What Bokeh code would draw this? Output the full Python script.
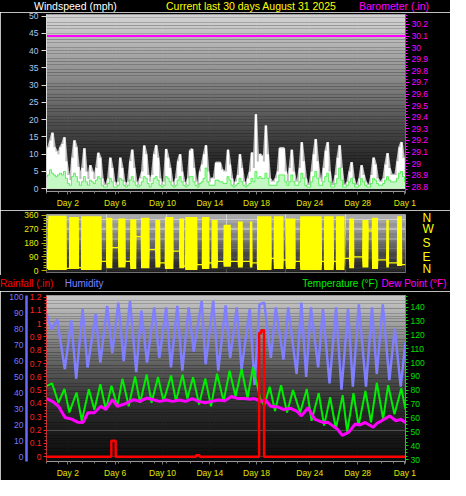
import numpy as np
from bokeh.plotting import figure
from bokeh.models import (Range1d, LinearAxis, FixedTicker, PrintfTickFormatter, Grid, Div)
from bokeh.layouts import column
from bokeh.embed import file_html
from bokeh.resources import INLINE

# ---------------- data ----------------
day_ticks = [1.78, 5.74, 9.7, 13.65, 17.55, 22.0, 26.0, 29.95]
day_labels = ["Day 2", "Day 6", "Day 10", "Day 14", "Day 18", "Day 24", "Day 28", "Day 1"]

# wind (mph), 6 samples per day (every 4 h), 30 days + final value
gust_by_day = [
    [11.5, 12, 14, 16.2, 12, 10.8], [10, 12, 13, 14.9, 8, 4], [2.5, 9, 14, 12, 6.4, 3],
    [6, 11.7, 5, 3, 6.8, 5], [3, 6, 10.4, 9, 3, 1], [1, 3, 9, 6, 2, 1],
    [2, 9, 6, 2, 1, 2], [8, 11.3, 6, 2, 1, 3], [5, 12.5, 10, 4, 2, 4],
    [10, 12.6, 9, 3, 1, 2], [11.5, 9, 6, 2, 1, 3], [8, 10, 5, 2, 1, 3],
    [11, 11.5, 6, 2, 1, 5], [7, 10, 12.6, 5, 2, 3], [3, 7.5, 7.5, 7.5, 5.5, 5],
    [5, 11.3, 7, 3, 1, 2], [4, 10, 6, 2, 1, 3], [5, 10.5, 6, 21.6, 8, 10],
    [9.5, 8, 18.3, 10, 3, 2], [2, 3, 5, 11.7, 11.7, 11.7], [5, 2, 6, 11.3, 5, 2],
    [2, 6, 13.5, 8, 3, 1], [1, 5, 10, 14.4, 8, 3], [2, 6, 11, 13.5, 5, 1],
    [1, 4, 9, 12.6, 6, 1], [1, 2, 5, 7.7, 3, 1], [1, 3, 6.8, 4, 2, 1],
    [1, 4, 9, 7, 3, 2], [2, 3, 7, 10.3, 6, 4], [4, 4, 8, 12, 13.5, 9],
]
gust_end = 4
avg_by_day = [
    [3.5, 4, 5.5, 4.5, 4, 3.5], [4, 4.5, 4, 5, 3, 1.5], [1, 3.5, 4.5, 3.5, 2, 1],
    [2, 3.5, 2, 1, 2.5, 2], [1.5, 2.5, 3.5, 3, 1, 0.5], [0.5, 1.5, 3, 2, 0.5, 0.5],
    [1, 3, 2.5, 1, 0.5, 1], [2.5, 3.5, 2, 1, 0.5, 1], [2, 3.5, 3, 1.5, 0.5, 1.5],
    [3, 3.5, 2.5, 1, 0.5, 1], [3.5, 3, 2, 1, 0.5, 1], [2.5, 3.5, 2, 1, 0.5, 1],
    [3.5, 3.5, 2, 1, 0.5, 1.5], [2, 3, 6, 2, 1, 1], [1, 2.5, 2.5, 2, 2, 1.5],
    [1.5, 3.5, 2.5, 1, 0.5, 1], [1.5, 3, 2, 1, 0.5, 1], [1.5, 3, 2, 5, 3, 3.5],
    [3, 3, 4.5, 3, 1, 1], [1, 1, 2, 4, 4, 4], [2, 1, 2, 4, 2, 1],
    [1, 2, 4.5, 3, 1, 0.5], [0.5, 2, 3.5, 5, 3, 1], [1, 2, 3.5, 4.5, 2, 0.5],
    [0.5, 1.5, 3, 6, 2.5, 0.5], [0.5, 1, 2, 3, 1.5, 0.5], [0.5, 1, 3, 2, 1, 0.5],
    [0.5, 1.5, 3, 2.5, 1.5, 1], [1, 1.5, 2.5, 3.5, 2.5, 2], [2, 2, 3, 4.5, 5, 3.5],
]
avg_end = 2
wind_ticks = [0, 5, 10, 15, 20, 25, 30, 35, 40, 45, 50]

baro_t = [0, 30]
baro_in = [30.1, 30.1]
baro_ticks = [28.8, 28.9, 29.0, 29.1, 29.2, 29.3, 29.4, 29.5, 29.6, 29.7, 29.8, 29.9, 30.0, 30.1, 30.2]

# wind direction: active (variable) periods and the steady direction after each one
dir_start = [0.16, 1.9, 2.9, 5.0, 6.0, 7.0, 7.9, 9.1, 9.9, 11.1, 11.6, 13.0, 13.8, 14.8,
             16.0, 17.0, 17.6, 19.0, 20.0, 21.2, 23.2, 24.2, 25.3, 26.4, 27.2, 28.4, 29.3]
dir_end = [1.68, 2.7, 4.6, 5.5, 6.6, 7.5, 8.6, 9.5, 10.6, 11.5, 12.6, 13.6, 14.3, 15.4,
           16.4, 17.2, 18.8, 19.8, 20.8, 23.0, 24.0, 24.9, 25.7, 26.9, 27.7, 28.6, 29.7]
dir_low = [5, 10, 5, 15, 20, 10, 15, 20, 10, 15, 5, 10, 15, 25,
           20, 20, 5, 10, 10, 5, 5, 5, 15, 20, 10, 20, 30]
dir_high = [358, 350, 355, 345, 340, 335, 345, 330, 350, 340, 350, 350, 330, 300,
            320, 320, 355, 355, 340, 355, 355, 355, 340, 330, 345, 330, 355]
dir_calm_start = 20
dir_calm_after = [15, 20, 60, 150, 60, 222, 137, 50, 127, 30, 40, 50, 60, 60,
                  60, 50, 80, 70, 60, 60, 60, 80, 90, 260, 70, 50, 40]
dir_ticks = [0, 90, 180, 270, 360]

temp_t = [0.0, 0.46, 1.0, 1.5, 1.91, 2.51, 2.95, 3.54, 4.0, 4.5, 4.96, 5.43, 5.92, 6.35, 6.87,
          7.4, 7.82, 8.37, 8.78, 9.32, 9.78, 10.41, 10.82, 11.37, 11.77, 12.25, 12.75, 13.27,
          13.75, 14.25, 14.8, 15.3, 15.8, 16.3, 16.8, 17.25, 17.9, 18.2, 18.65, 19.1, 19.6,
          20.1, 20.6, 21.2, 21.75, 22.15, 22.75, 23.2, 23.7, 24.18, 24.75, 25.13, 25.65,
          26.08, 26.65, 27.12, 27.6, 28.13, 28.55, 29.08, 29.65, 30.0]
temp_f = [83, 85, 71, 81, 64, 78.4, 58, 80.7, 66, 84.4, 66, 83.3, 68.5, 88.4, 68.5,
          90, 71, 91.4, 71, 89.6, 72, 90.7, 72, 91.2, 74, 89.5, 69.7, 88.5,
          68.5, 91.9, 72, 94.2, 75.5, 95.4, 74.4, 96.6, 73, 69, 82.5, 65, 83.7,
          64, 80.2, 63.8, 81, 58, 78, 54.5, 75, 52.2, 76.5, 49.8, 78,
          54.5, 79.5, 56.8, 85.4, 59.2, 83.7, 62.7, 81.4, 66.2]

dew_t = [0.0, 0.5, 1.0, 1.55, 2.1, 2.6, 3.05, 3.46, 4.0, 4.55, 4.96, 5.5, 5.92, 6.5, 7.28,
         7.8, 8.37, 9.0, 9.46, 10.0, 10.55, 11.1, 11.64, 12.18, 12.7, 13.27, 13.8, 14.36,
         14.9, 15.45, 16.0, 16.54, 17.0, 17.36, 17.9, 18.3, 18.73, 19.3, 19.8, 20.4, 20.9,
         21.3, 21.86, 22.4, 23.1, 23.5, 23.9, 24.3, 24.72, 25.26, 25.8, 26.2, 26.63, 27.3,
         27.6, 28.0, 28.67, 29.2, 29.6, 30.0]
dew_f = [74, 72, 68.5, 60.3, 59.2, 57, 56.8, 63.8, 63.8, 68.5, 66.2, 73.2, 68.5, 70, 73.2,
         72, 74.4, 73, 72, 73, 72, 73, 72, 74, 72, 71, 72, 73,
         72.5, 75.5, 74, 74, 73.5, 74, 72, 73, 68.5, 68, 66.2, 67, 65,
         61.5, 67.4, 59.2, 56.8, 57, 54.5, 52, 47.5, 49.8, 55.7, 55, 56.8, 53.3,
         56, 58, 61.5, 58, 59, 56.8]

hum_t = [0.0, 0.4, 0.9, 1.53, 2.07, 2.48, 3.02, 3.43, 4.11, 4.5, 5.07, 5.5, 6.0, 6.45, 6.98,
         7.5, 7.93, 8.4, 9.0, 9.43, 10.0, 10.4, 10.93, 11.35, 11.88, 12.3, 12.97, 13.3,
         13.93, 14.35, 14.97, 15.35, 15.9, 16.3, 16.98, 17.39, 17.8, 18.2, 18.75, 19.16,
         19.8, 20.2, 20.9, 21.3, 21.7, 22.1, 22.7, 23.1, 23.65, 24.2, 24.65, 25.2, 25.6,
         26.1, 26.7, 27.2, 27.6, 28.1, 28.65, 29.1, 29.6, 30.0]
hum_pct = [90, 80, 86, 55, 85.6, 49, 92.7, 56, 89.6, 59, 94.7, 65, 96.7, 60, 97.8,
           53, 91.7, 59, 93.7, 62, 93.7, 56, 94.7, 54, 93.7, 66, 97.8, 58,
           97.8, 54, 95, 62, 93.7, 55, 92.7, 45, 95.7, 96.7, 62, 93.7,
           61, 93.7, 52, 96.7, 50, 93.7, 56, 92.7, 46, 93.7, 42, 92.7, 44,
           95.7, 44, 93.7, 52, 95.7, 48, 80.5, 44, 72]

rain_t = [0, 5.42, 5.78, 12.5, 12.8, 17.77, 17.95, 18.18, 30]
rain_in = [0, 0.12, 0, 0.01, 0, 0.93, 0.95, 0, 0]

hum_ticks = [0, 10, 20, 30, 40, 50, 60, 70, 80, 90, 100]
rain_ticks = [0, 0.1, 0.2, 0.3, 0.4, 0.5, 0.6, 0.7, 0.8, 0.9, 1.0, 1.1, 1.2]
temp_ticks = [30, 40, 50, 60, 70, 80, 90, 100, 110, 120, 130, 140]

header_texts = ["Windspeed (mph)", "Current last 30 days August 31 2025", "Barometer (.in)"]
header_colors = ["#ffffff", "#ffff00", "#ff00ff"]
legend_texts = ["Rainfall (.in)", "Humidity", "Temperature (°F)", "Dew Point (°F)"]
legend_colors = ["#ff0000", "#8080ff", "#00ee00", "#ff00ff"]

# ---------------- helpers ----------------
FONT = "Liberation Sans"
TICK_FS = "8.5px"
BL, BR = 46, 45   # common frame borders (plots in a column are aligned)


def gradient(p, y0, y1, levels, n=64):
    stops = np.linspace(0, 1, len(levels))
    bottoms, tops, cols = [], [], []
    for k in range(n):
        g = int(round(np.interp((k + 0.5) / n, stops, levels)))
        bottoms.append(y0 + (y1 - y0) * k / n)
        tops.append(y0 + (y1 - y0) * (k + 1) / n)
        cols.append("#%02x%02x%02x" % (g, g, g))
    p.quad(left=-1, right=31, bottom=bottoms, top=tops, fill_color=cols, line_color=None)


def style_axis(ax, color, tick_color=None, line_color=None):
    ax.major_label_text_color = color
    ax.major_label_text_font = FONT
    ax.major_label_text_font_size = TICK_FS
    ax.major_tick_line_color = tick_color
    ax.minor_tick_line_color = tick_color
    ax.axis_line_color = line_color


def base_fig(h, bt, bb, yr, **kw):
    return figure(width=450, height=h, x_range=Range1d(0, 30), y_range=yr,
                  output_backend="svg", toolbar_location=None,
                  min_border_left=BL, min_border_right=BR, min_border_top=bt,
                  min_border_bottom=bb, background_fill_color="black",
                  border_fill_color="black", outline_line_color="#8a8a8a", **kw)


def text_row(h, xs, top, texts, colors, size):
    spans = "".join(
        f'<span style="position:absolute;left:{x}px;top:{top}px;color:{c};'
        f'white-space:nowrap;">{t}</span>'
        for x, t, c in zip(xs, texts, colors))
    html = (f'<div style="position:relative;width:450px;height:{h}px;background:#000;'
            f'overflow:hidden;font-family:\'{FONT}\';font-size:{size};line-height:12px;">'
            f'{spans}</div>')
    return Div(text=html, width=450, height=h, margin=0,
               styles={"background-color": "black"})


def day_axis(p):
    ax = p.xaxis[0]
    ax.ticker = FixedTicker(ticks=day_ticks, minor_ticks=list(range(0, 31)))
    ax.major_label_overrides = dict(zip(day_ticks, day_labels))
    style_axis(ax, "#e4e400", "#7a7a7a", "#9a9a9a")
    ax.major_tick_out = 3
    ax.major_tick_in = 0
    ax.minor_tick_out = 2
    ax.minor_tick_in = 0
    ax.major_label_standoff = 3


def grid_style(g):
    g.grid_line_color = "#c8c8c8"
    g.grid_line_alpha = 0.45
    g.grid_line_dash = "1 2"


# ---------------- header ----------------
head = text_row(12, [34, 166, 359], 0, header_texts, header_colors, "10.5px")

# ---------------- top: wind speed & barometer ----------------
p1 = base_fig(198, 2, 16, Range1d(-0.8, 50.5))
p1.extra_y_ranges = {"baro": Range1d(28.76, 30.286)}
gradient(p1, -0.8, 50.5, [20, 30, 42, 56, 74, 94, 116, 136, 156, 176, 198, 210])

wind_t = np.arange(0, 30 * 6 + 1) / 6.0
gust = [v for row in gust_by_day for v in row] + [gust_end]
avg = [v for row in avg_by_day for v in row] + [avg_end]

p1.xgrid.ticker = FixedTicker(ticks=day_ticks)
grid_style(p1.xgrid[0])
p1.ygrid.ticker = FixedTicker(ticks=wind_ticks)
grid_style(p1.ygrid[0])

p1.line(wind_t, gust, color="#bdbdbd", line_width=2.5)
p1.varea_step(x=wind_t, y1=0, y2=gust, step_mode="center", fill_color="white")
p1.varea_step(x=wind_t, y1=0, y2=avg, step_mode="center", fill_color="#c4f8c4")
p1.step(wind_t, avg, mode="center", color="#30ee30", line_width=1, line_alpha=0.75)
p1.line(baro_t, baro_in, y_range_name="baro", color="#ff00ff", line_width=2)

day_axis(p1)
ly = p1.yaxis[0]
ly.ticker = FixedTicker(ticks=wind_ticks)
style_axis(ly, "#a8c8f0", "#d8d8d8", "#d8d8d8")
ly.major_tick_out = 5
ly.major_tick_in = 0
ly.major_label_standoff = 3

ra = LinearAxis(y_range_name="baro",
                ticker=FixedTicker(ticks=baro_ticks,
                                   minor_ticks=list(np.arange(28.75, 30.3, 0.025))),
                formatter=PrintfTickFormatter(format="%g"))
style_axis(ra, "#ff00ff", "#ff00ff", "#ff00ff")
ra.major_tick_out = 4
ra.major_tick_in = 0
ra.minor_tick_out = 2
ra.minor_tick_in = 0
ra.major_label_standoff = 2
p1.add_layout(ra, "right")

# ---------------- middle: wind direction ----------------
p2 = base_fig(65, 4, 3, Range1d(-12, 366), x_axis_location=None)
gradient(p2, -12, 366, [40, 62, 95, 135, 172, 200, 214])
p2.ygrid.ticker = FixedTicker(ticks=dir_ticks)
grid_style(p2.ygrid[0])

d_t, d_lo, d_hi = [0.0], [dir_calm_start - 4], [dir_calm_start + 4]
for i in range(len(dir_start)):
    d_t += [dir_start[i], dir_end[i]]
    d_lo += [dir_low[i], dir_low[i]]
    d_hi += [dir_high[i], dir_high[i]]
    c = dir_calm_after[i]
    nxt = dir_start[i + 1] if i + 1 < len(dir_start) else 30.03
    d_t += [dir_end[i] + 0.03, nxt - 0.03]
    d_lo += [c - 4, c - 4]
    d_hi += [c + 4, c + 4]
p2.varea(x=d_t, y1=d_lo, y2=d_hi, color="#ffff00")

la = p2.yaxis[0]
la.ticker = FixedTicker(ticks=dir_ticks, minor_ticks=list(range(0, 361, 18)))
style_axis(la, "#e8e800", "#b4b400", None)
la.major_tick_out = 5
la.major_tick_in = 0
la.minor_tick_out = 3
la.minor_tick_in = 0
la.major_label_standoff = 3

compass = LinearAxis(ticker=FixedTicker(ticks=dir_ticks),
                     major_label_overrides={0: "N", 90: "E", 180: "S", 270: "W", 360: "N"})
style_axis(compass, "#ffff00", None, None)
compass.major_label_text_font_size = "12px"
compass.major_tick_out = 0
compass.major_label_standoff = 17
p2.add_layout(compass, "right")

# ---------------- legend row ----------------
legend = text_row(16, [0, 64.7, 302.3, 381.4], 3, legend_texts, legend_colors, "10px")

# ---------------- bottom: rain, humidity, temperature, dew point ----------------
p3 = base_fig(189, 4, 18, Range1d(-0.0365, 1.212), y_axis_location=None)
p3.extra_y_ranges = {"hum": Range1d(-3.05, 101.2), "temp": Range1d(28.6, 148.4)}
gradient(p3, -0.0365, 1.212, [12, 24, 40, 62, 92, 128, 168, 200])
p3.xgrid.ticker = FixedTicker(ticks=day_ticks)
grid_style(p3.xgrid[0])
tg = Grid(dimension=1, ticker=FixedTicker(ticks=temp_ticks), y_range_name="temp")
grid_style(tg)
p3.add_layout(tg)

p3.line(hum_t, hum_pct, y_range_name="hum", color="#7f7fff", line_width=2.5)
p3.line(temp_t, temp_f, y_range_name="temp", color="#00ee00", line_width=2)
p3.line(dew_t, dew_f, y_range_name="temp", color="#ff00ff", line_width=3)
p3.step(rain_t, rain_in, mode="after", color="#ff0000", line_width=2.5)

day_axis(p3)

rax = LinearAxis(ticker=FixedTicker(ticks=rain_ticks,
                                    minor_ticks=list(np.arange(0, 1.23, 0.025))),
                 formatter=PrintfTickFormatter(format="%g"))
style_axis(rax, "#ff2020", "#ff2020", "#ff2020")
rax.axis_line_dash = "1 1"
rax.major_tick_out = 3
rax.major_tick_in = 0
rax.minor_tick_out = 2
rax.minor_tick_in = 0
rax.major_label_standoff = 2
p3.add_layout(rax, "left")

hax = LinearAxis(y_range_name="hum", ticker=FixedTicker(ticks=hum_ticks))
style_axis(hax, "#7878ff", None, "#6a6aff")
hax.axis_line_width = 2.5
hax.major_tick_out = 0
hax.major_tick_in = 0
hax.major_label_standoff = 3
p3.add_layout(hax, "left")

tax = LinearAxis(y_range_name="temp",
                 ticker=FixedTicker(ticks=temp_ticks, minor_ticks=list(np.arange(30, 148, 2.5))))
style_axis(tax, "#00e000", "#00e000", "#00e000")
tax.major_tick_out = 3
tax.major_tick_in = 0
tax.minor_tick_out = 2
tax.minor_tick_in = 0
tax.major_label_standoff = 2
p3.add_layout(tax, "right")

page = column(head, p1, p2, legend, p3)
open("out.html", "w").write(file_html(page, INLINE))
